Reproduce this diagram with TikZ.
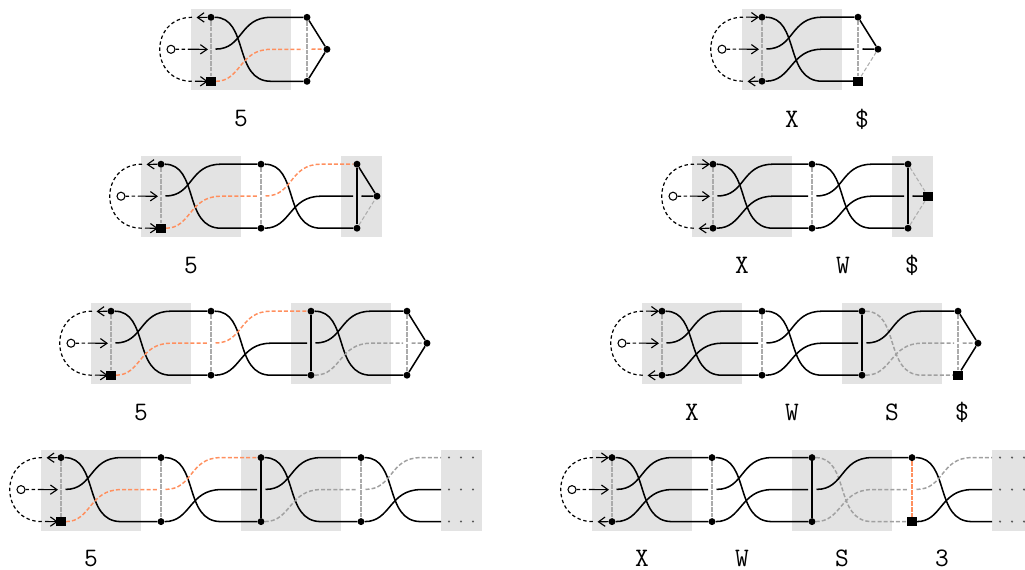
\documentclass[tikz,border=0pt]{standalone}
\usetikzlibrary{arrows.meta}
\pgfdeclarelayer{bgl}
\pgfdeclarelayer{wl}
\pgfsetlayers{bgl,wl,main}
\definecolor{boxg}{HTML}{E3E3E3}
\definecolor{orw}{HTML}{FF8F5E}
\definecolor{grw}{HTML}{A0A0A0}
\definecolor{grv}{HTML}{ABABAB}
\tikzset{
 dotn/.style={circle,fill=black,inner sep=0pt,minimum size=5.2pt},
 sqn/.style={rectangle,fill=black,inner sep=0pt,minimum size=7pt},
 startn/.style={circle,draw=black,fill=white,line width=0.8pt,inner sep=0pt,minimum size=6pt},
 wblack/.style={draw=black,line width=1.15pt},
 worange/.style={draw=orw,line width=1.1pt,dash pattern=on 3pt off 1.6pt},
 wgray/.style={draw=grw,line width=1.1pt,dash pattern=on 3pt off 1.6pt},
 wthin/.style={draw=grw!85,line width=0.8pt,dash pattern=on 3pt off 1.6pt},
 vgray/.style={draw=grv,line width=1.1pt,dash pattern=on 3.4pt off 0.9pt},
 vblack/.style={draw=black,line width=1.15pt},
 vorange/.style={draw=orw,line width=1.15pt,dash pattern=on 3.4pt off 0.9pt},
 wdash/.style={draw=black,line width=0.9pt,dash pattern=on 2.6pt off 2pt},
 warrow/.style={draw=black,line width=0.85pt,-{Straight Barb[length=5pt,width=7pt,line width=0.85pt]}},
 lab/.style={inner sep=0pt,font=\fontsize{20}{20}\selectfont\ttfamily},
 tinyd/.style={circle,fill=black!65,inner sep=0pt,minimum size=1.7pt}
}
\newcommand\rowy[1]{\def\yt{#1}\pgfmathsetmacro\ym{#1+32}\pgfmathsetmacro\yb{#1+64}}
\newcommand\gbox[2]{\begin{pgfonlayer}{bgl}\fill[boxg] (#1,\yt-8) rectangle (#2,\yt+73);\end{pgfonlayer}}
% #1 row, #2 layer, #3 x, #4 top shape, #5 bottom shape, #6 vertical style
\newcommand\lyr[6]{%
 \node[#4] (#1#2t) at (#3,\yt) {};
 \node[#5] (#1#2b) at (#3,\yb) {};
 \coordinate (#1#2mo) at (#3+4.5,\ym-0.2);
 \coordinate (#1#2mi) at (#3-4,\ym);
 \coordinate (#1#2tc) at (#3+60,\yt);
 \coordinate (#1#2mc) at (#3+60,\ym);
 \coordinate (#1#2bc) at (#3+60,\yb);
 \begin{pgfonlayer}{wl}\draw[#6] (#1#2t) -- (#1#2b);\end{pgfonlayer}}
% #1 row, #2 from, #3 to, #4 top->bot, #5 mid->top, #6 bot->mid
\newcommand\modl[6]{\begin{pgfonlayer}{wl}
 \draw[#4] (#1#2t) .. controls +(38,0) and +(-38,0) .. (#1#2bc) -- (#1#3b);
 \draw[#5] (#1#2mo) .. controls +(28,0) and +(-32,0) .. (#1#2tc) -- (#1#3t);
 \draw[#6] (#1#2b) .. controls +(30,0) and +(-32,0) .. (#1#2mc) -- (#1#3mi);
 \end{pgfonlayer}}
% #1 row, #2 layer, #3 x, #4 top, #5 mid, #6 bot, #7 shape
\newcommand\fin[7]{\node[#7] (#1end) at (#3+20,\ym) {};
 \begin{pgfonlayer}{wl}
 \draw[#4] (#1#2t) -- (#1end);
 \draw[#5] (#1#2mo) -- (#1end);
 \draw[#6] (#1#2b) -- (#1end);
 \end{pgfonlayer}}
\newcommand\strt[2]{%
 \node[startn] (#1s) at (#2-40,\ym) {};
 \coordinate (#1jt) at (#2-19,\yt);
 \coordinate (#1jb) at (#2-19,\yb);
 \coordinate (#1jm) at (#2-23,\ym-0.1);
 \coordinate (#1tipm) at (#2-3,\ym+0.1);
 \begin{pgfonlayer}{wl}
 \draw[wdash] (#1jt) .. controls +(-43,0) and +(-43,0) .. (#1jb);
 \draw[wdash] (#1s) -- (#1jm);
 \draw[warrow] (#1jm) -- (#1tipm);
 \end{pgfonlayer}}
\newcommand\arrout[4]{% row, node, x, y: arrow leaving node to the left
 \coordinate (#1#2tip) at (#3-14.5,#4+0.2);
 \begin{pgfonlayer}{wl}\draw[warrow] (#1#2) -- (#1#2tip);\end{pgfonlayer}}
\newcommand\arrin[4]{% row, node, x, y: arrow entering node from the left
 \coordinate (#1#2tail) at (#3-16,#4-0.1);
 \coordinate (#1#2tip) at (#3-3,#4+0.1);
 \begin{pgfonlayer}{wl}\draw[warrow] (#1#2tail) -- (#1#2tip);\end{pgfonlayer}}
\newcommand\dotsbox[3]{% row, box left, box right
 \gbox{#2}{#3}
 \foreach \dx/\nm in {8/u,20/v,32/w}{
  \node[tinyd] (#1\nm t) at (#2+\dx,\yt) {};
  \node[tinyd] (#1\nm m) at (#2+\dx,\ym) {};
  \node[tinyd] (#1\nm b) at (#2+\dx,\yb) {};
 }}
\begin{document}
\begin{tikzpicture}[x=0.75pt,y=-0.75pt]
\path[use as bounding box] (0,0) rectangle (1025,569);
% ---------- left column ----------
\rowy{17.3}
\gbox{191}{291}
\lyr{A}{a}{211}{dotn}{sqn}{vgray}
\lyr{A}{c}{307}{dotn}{dotn}{vgray}
\strt{A}{211}\arrout{A}{at}{211}{\yt}\arrin{A}{ab}{211}{\yb}
\modl{A}{a}{c}{wblack}{wblack}{worange}
\fin{A}{c}{307}{wblack}{worange}{wblack}{dotn}
\node[lab] (Al) at (241,119) {5};

\rowy{164.2}
\gbox{141}{241}\gbox{341}{382}
\lyr{B}{a}{161}{dotn}{sqn}{vgray}
\lyr{B}{b}{261}{dotn}{dotn}{vgray}
\lyr{B}{c}{357}{dotn}{dotn}{vblack}
\strt{B}{161}\arrout{B}{at}{161}{\yt}\arrin{B}{ab}{161}{\yb}
\modl{B}{a}{b}{wblack}{wblack}{worange}
\modl{B}{b}{c}{wblack}{worange}{wblack}
\fin{B}{c}{357}{wblack}{wblack}{wthin}{dotn}
\node[lab] (Bl) at (191,266) {5};

\rowy{311.2}
\gbox{91}{191}\gbox{291}{391}
\lyr{C}{a}{111}{dotn}{sqn}{vgray}
\lyr{C}{b}{211}{dotn}{dotn}{vgray}
\lyr{C}{c}{311}{dotn}{dotn}{vblack}
\lyr{C}{d}{407}{dotn}{dotn}{vgray}
\strt{C}{111}\arrout{C}{at}{111}{\yt}\arrin{C}{ab}{111}{\yb}
\modl{C}{a}{b}{wblack}{wblack}{worange}
\modl{C}{b}{c}{wblack}{worange}{wblack}
\modl{C}{c}{d}{wblack}{wblack}{wgray}
\fin{C}{d}{407}{wblack}{wgray}{wblack}{dotn}
\node[lab] (Cl) at (141,413) {5};

\rowy{457.6}
\gbox{41}{141}\gbox{241}{341}
\lyr{D}{a}{61}{dotn}{sqn}{vgray}
\lyr{D}{b}{161}{dotn}{dotn}{vgray}
\lyr{D}{c}{261}{dotn}{dotn}{vblack}
\lyr{D}{d}{361}{dotn}{dotn}{vgray}
\dotsbox{D}{441}{482}
\coordinate (Det) at (441,\yt);\coordinate (Deb) at (441,\yb);\coordinate (Demi) at (441,\ym);
\strt{D}{61}\arrout{D}{at}{61}{\yt}\arrin{D}{ab}{61}{\yb}
\modl{D}{a}{b}{wblack}{wblack}{worange}
\modl{D}{b}{c}{wblack}{worange}{wblack}
\modl{D}{c}{d}{wblack}{wblack}{wgray}
\modl{D}{d}{e}{wblack}{wgray}{wblack}
\node[lab] (Dl) at (91,558.5) {5};

% ---------- right column ----------
\rowy{17.2}
\gbox{742}{842}
\lyr{E}{a}{762}{dotn}{dotn}{vgray}
\lyr{E}{c}{858}{dotn}{sqn}{vgray}
\strt{E}{762}\arrin{E}{at}{762}{\yt}\arrout{E}{ab}{762}{\yb}
\modl{E}{a}{c}{wblack}{wblack}{wblack}
\fin{E}{c}{858}{wblack}{wblack}{wthin}{dotn}
\node[lab] (El) at (792,119) {X};
\node[lab] (Em) at (862,119) {\$};

\rowy{164.2}
\gbox{692}{792}\gbox{892}{933}
\lyr{F}{a}{713}{dotn}{dotn}{vgray}
\lyr{F}{b}{812}{dotn}{dotn}{vgray}
\lyr{F}{c}{908}{dotn}{dotn}{vblack}
\strt{F}{713}\arrin{F}{at}{713}{\yt}\arrout{F}{ab}{713}{\yb}
\modl{F}{a}{b}{wblack}{wblack}{wblack}
\modl{F}{b}{c}{wblack}{wblack}{wblack}
\fin{F}{c}{908}{wthin}{wblack}{wthin}{sqn}
\node[lab] (Fl) at (742,265) {X};
\node[lab] (Fm) at (843,265) {W};
\node[lab] (Fn) at (912,265) {\$};

\rowy{311.2}
\gbox{642}{742}\gbox{842}{942}
\lyr{G}{a}{662}{dotn}{dotn}{vgray}
\lyr{G}{b}{762}{dotn}{dotn}{vgray}
\lyr{G}{c}{862}{dotn}{dotn}{vblack}
\lyr{G}{d}{958}{dotn}{sqn}{vgray}
\strt{G}{662}\arrin{G}{at}{662}{\yt}\arrout{G}{ab}{662}{\yb}
\modl{G}{a}{b}{wblack}{wblack}{wblack}
\modl{G}{b}{c}{wblack}{wblack}{wblack}
\modl{G}{c}{d}{wgray}{wblack}{wgray}
\fin{G}{d}{958}{wblack}{wgray}{wblack}{dotn}
\node[lab] (Gl) at (692,412) {X};
\node[lab] (Gm) at (792,412) {W};
\node[lab] (Gn) at (892,412) {S};
\node[lab] (Go) at (962,412) {\$};

\rowy{457.6}
\gbox{592}{692}\gbox{792}{892}
\lyr{H}{a}{612}{dotn}{dotn}{vgray}
\lyr{H}{b}{712}{dotn}{dotn}{vgray}
\lyr{H}{c}{812}{dotn}{dotn}{vblack}
\lyr{H}{d}{912}{dotn}{sqn}{vorange}
\dotsbox{H}{992}{1025}
\coordinate (Het) at (992,\yt);\coordinate (Heb) at (992,\yb);\coordinate (Hemi) at (992,\ym);
\strt{H}{612}\arrin{H}{at}{612}{\yt}\arrout{H}{ab}{612}{\yb}
\modl{H}{a}{b}{wblack}{wblack}{wblack}
\modl{H}{b}{c}{wblack}{wblack}{wblack}
\modl{H}{c}{d}{wgray}{wblack}{wgray}
\modl{H}{d}{e}{wblack}{wgray}{wblack}
\node[lab] (Hl) at (642,558.5) {X};
\node[lab] (Hm) at (742,558.5) {W};
\node[lab] (Hn) at (842,558.5) {S};
\node[lab] (Ho) at (942,558.5) {3};
\end{tikzpicture}
\end{document}
